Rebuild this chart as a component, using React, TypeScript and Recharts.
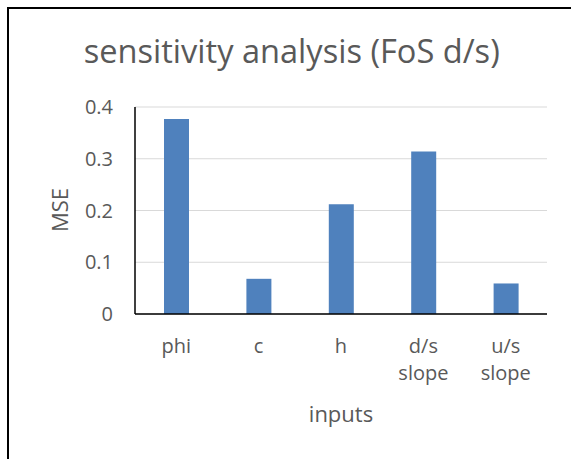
import React from "react";
import { BarChart, Bar, XAxis, YAxis, CartesianGrid } from "recharts";

const categories = ["phi", "c", "h", "d/s slope", "u/s slope"];
const mseValues = [0.377, 0.068, 0.212, 0.314, 0.059];
const yTicks = [0, 0.1, 0.2, 0.3, 0.4];
const titleText = "sensitivity analysis (FoS d/s)";
const xAxisTitle = "inputs";
const yAxisTitle = "MSE";

const data = categories.map((name, i) => ({ name, mse: mseValues[i] }));

const FONT = "'Open Sans', 'Noto Sans', sans-serif";
const TEXT = "#595959";

const XTick = (props: any) => {
  const { x, y, payload } = props;
  const lines = String(payload.value).split(" ");
  return (
    <g>
      <text x={x} y={y} textAnchor="middle" fill={TEXT} fontSize={20} fontFamily={FONT}>
        {lines.map((l, i) => (
          <tspan key={i} x={x} y={y + 39 + i * 27}>
            {l}
          </tspan>
        ))}
      </text>
    </g>
  );
};

export default function App() {
  return (
    <div
      style={{
        position: "fixed",
        left: 7,
        top: 7,
        width: 562,
        height: 450,
        borderLeft: "2px solid #000",
        borderTop: "2px solid #000",
        overflow: "hidden",
        background: "#fff",
      }}
    >
      <BarChart
        width={562}
        height={450}
        data={data}
        margin={{ top: 98, right: 24, left: 0, bottom: 105 }}
      >
        <CartesianGrid vertical={false} stroke="#d9d9d9" strokeWidth={1.2} />
        <XAxis
          dataKey="name"
          height={40}
          interval={0}
          tickLine={false}
          tickSize={0}
          tickMargin={0}
          axisLine={{ stroke: "#000", strokeWidth: 1.5 }}
          tick={<XTick />}
        />
        <YAxis
          width={126}
          domain={[0, 0.4]}
          ticks={yTicks}
          interval={0}
          tickLine={false}
          tickSize={0}
          tickMargin={22}
          axisLine={{ stroke: "#000", strokeWidth: 1.5 }}
          tick={{ fill: TEXT, fontSize: 20, fontFamily: FONT }}
          tickFormatter={(v: number) => String(v)}
        />
        <Bar dataKey="mse" fill="#4f81bd" barSize={25} isAnimationActive={false} />
      </BarChart>
      <svg
        width={562}
        height={450}
        style={{ position: "absolute", left: 0, top: 0, pointerEvents: "none" }}
      >
        <text x={282.7} y={54.3} textAnchor="middle" fill={TEXT} fontSize={32.6} fontFamily={FONT}>
          {titleText}
        </text>
        <text
          x={50}
          y={201}
          textAnchor="middle"
          dominantBaseline="central"
          transform="rotate(-90 50 201)"
          fill={TEXT}
          fontSize={22}
          fontFamily={FONT}
        >
          {yAxisTitle}
        </text>
        <text x={332} y={412.5} textAnchor="middle" fill={TEXT} fontSize={22} fontFamily={FONT}>
          {xAxisTitle}
        </text>
      </svg>
    </div>
  );
}
